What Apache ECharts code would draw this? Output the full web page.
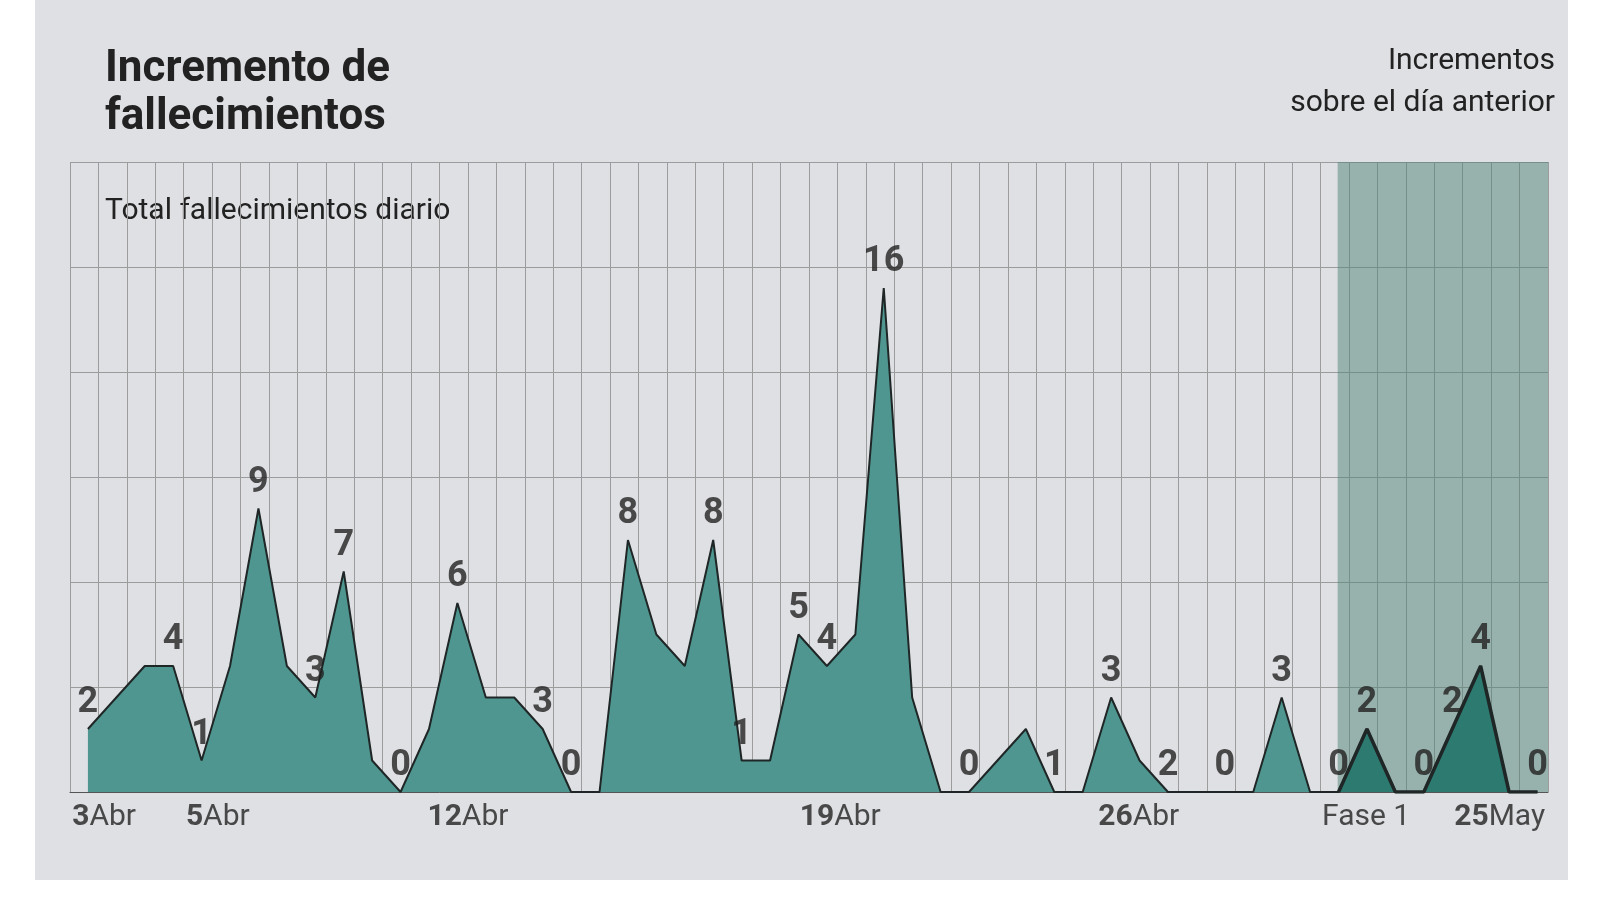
<!DOCTYPE html>
<html><head><meta charset="utf-8">
<script src="https://cdn.jsdelivr.net/npm/echarts@6/dist/echarts.min.js"></script>
<style>html,body{margin:0;background:#fff}#c{width:1600px;height:900px}</style>
</head><body><div id="c"></div>
<script>
const values = [2,3,4,4,1,4,9,4,3,7,1,0,2,6,3,3,2,0,0,8,5,4,8,1,1,5,4,5,16,3,0,0,1,2,0,0,3,1,0,0,0,0,3,0,0,2,0,0,2,4,0,0];
const pointLabels = ['2','','','4','1','','9','','3','7','','0','','6','','','3','0','','8','','','8','1','','5','4','','16','','','0','','','1','','3','','2','','0','','3','','0','2','','0','2','4','','0'];
const tickLabels = [['3','Abr',1.2],['5','Abr',5.2],['12','Abr',14.0],['19','Abr',27.1],['26','Abr',37.6],['','Fase 1',45.6],['25','May',50.3]];
const phaseStart = 44.6;
const offset = 0.63;
const darkFrom = 44;

const main = values.map((v,i)=>[i+offset,v]);
const dark = values.map((v,i)=>i>=darkFrom?[i+offset,v]:null).filter(d=>d);
const font = 'Roboto';
const chart = echarts.init(document.getElementById('c'));
chart.setOption({
  animation:false,
  textStyle:{fontFamily:font},
  graphic:[
    {type:'rect',z:-10,shape:{x:35,y:0,width:1533,height:880},style:{fill:'#dfe0e4'}},
    {type:'text',x:105,y:46,style:{text:'Incremento de\nfallecimientos',font:'bold 44px Roboto',fill:'#222',lineHeight:48}},
    {type:'text',x:105,y:196,style:{text:'Total fallecimientos diario',font:'30px Roboto',fill:'#222'}},
    {type:'text',x:1555,y:40,style:{text:'Incrementos\nsobre el día anterior',font:'30px Roboto',fill:'#222',align:'right',lineHeight:42}}
  ],
  grid:{left:70,right:52,top:162,bottom:108},
  xAxis:{type:'value',min:0,max:52,interval:1,axisLabel:{show:false},axisTick:{show:false},
    axisLine:{show:true,lineStyle:{color:'#555'}},splitLine:{show:true,lineStyle:{color:'#9c9c9c',width:1}}},
  yAxis:{type:'value',min:0,max:20,interval:10/3,axisLabel:{show:false},axisLine:{show:false},axisTick:{show:false},
    splitLine:{lineStyle:{color:'#9c9c9c',width:1}}},
  series:[
    {type:'line',data:main,symbol:'circle',symbolSize:1,itemStyle:{color:'rgba(0,0,0,0)'},showAllSymbol:true,
      lineStyle:{color:'#1f2626',width:2},areaStyle:{color:'#4f9690',opacity:1},
      markArea:{silent:true,itemStyle:{color:'rgba(80,130,115,0.5)'},data:[[{xAxis:phaseStart},{xAxis:52}]]},
      z:3},
    {type:'line',data:dark,symbol:'none',lineStyle:{color:'#1f2626',width:3.5},areaStyle:{color:'#2d7a71',opacity:1},z:4},
    {type:'scatter',data:main,symbolSize:0,silent:true,z:6,
      label:{show:true,position:'top',distance:8,fontSize:36,fontWeight:'bold',color:'#222',fontFamily:font,
        formatter:p=>pointLabels[p.dataIndex]||''},
      labelLayout:{hideOverlap:false}},
    {type:'scatter',data:tickLabels.map(t=>[t[2],0]),symbolSize:0,silent:true,z:5,
      label:{show:true,position:'bottom',distance:10,formatter:p=>{const t=tickLabels[p.dataIndex];return (t[0]?'{b|'+t[0]+'}':'')+'{n|'+t[1]+'}';},
        rich:{b:{fontSize:30,fontWeight:'bold',color:'#222',fontFamily:font},n:{fontSize:30,color:'#222',fontFamily:font}}}}
  ]
});
</script></body></html>
